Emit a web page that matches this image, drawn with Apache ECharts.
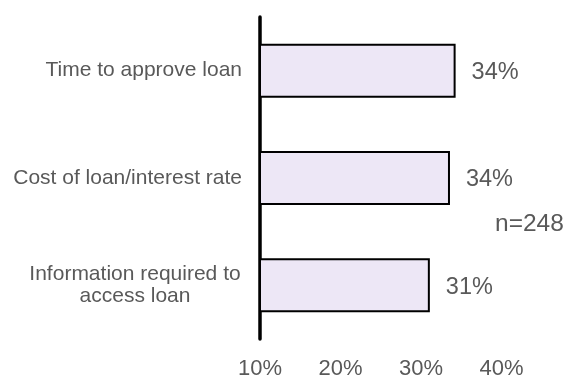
<!DOCTYPE html>
<html>
<head>
<meta charset="utf-8">
<script src="https://cdn.jsdelivr.net/npm/echarts@6/dist/echarts.min.js"></script>
<style>
html,body{margin:0;padding:0;background:#fff;}
#chart{width:569px;height:377px;}
</style>
</head>
<body>
<div id="chart"></div>
<script>
const categories = ['Time to approve loan', 'Cost of loan/interest rate', 'Information required to\naccess loan'];
const values = [34.3, 33.6, 31.1];
const tickMin = 10, tickMax = 40, tickStep = 10;
const note = 'n=248';

const FONT = "'Liberation Sans', Arial, sans-serif";
const TXT = '#595959';

const chart = echarts.init(document.getElementById('chart'));
chart.setOption({
  animation: false,
  grid: { left: 260, right: 67.5, top: 17, bottom: 38, containLabel: false, outerBoundsMode: 'none' },
  xAxis: {
    type: 'value', min: tickMin, max: tickMax, interval: tickStep,
    axisLine: { show: false }, axisTick: { show: false }, splitLine: { show: false },
    axisLabel: { formatter: v => v + '%', color: TXT, fontFamily: FONT, fontSize: 22, margin: 19 }
  },
  yAxis: {
    type: 'category', data: categories, inverse: true,
    axisLine: { show: true, lineStyle: { color: '#000', width: 3.5 } },
    axisTick: { show: false },
    axisLabel: {
      color: TXT, fontFamily: FONT, fontSize: 21, lineHeight: 22, margin: 18, align: 'right',
      formatter: v => v.indexOf('\n') < 0 ? v : v.split('\n').map(s => '{c|' + s + '}').join('\n'),
      rich: { c: { width: 214, align: 'center', color: TXT, fontFamily: FONT, fontSize: 21, lineHeight: 22 } }
    }
  },
  series: [{
    type: 'bar', data: values, barWidth: 54,
    itemStyle: { color: '#EDE7F6', borderColor: '#000', borderWidth: 2 },
    label: { show: true, position: 'right', distance: 16, offset: [0, 2], formatter: p => Math.round(p.value) + '%',
      color: TXT, fontFamily: FONT, fontSize: 23.5 }
  }],
  graphic: [{
    type: 'text', left: 495, top: 212,
    style: { text: note, fill: TXT, font: '24.5px ' + FONT }
  }]
});
</script>
</body>
</html>
